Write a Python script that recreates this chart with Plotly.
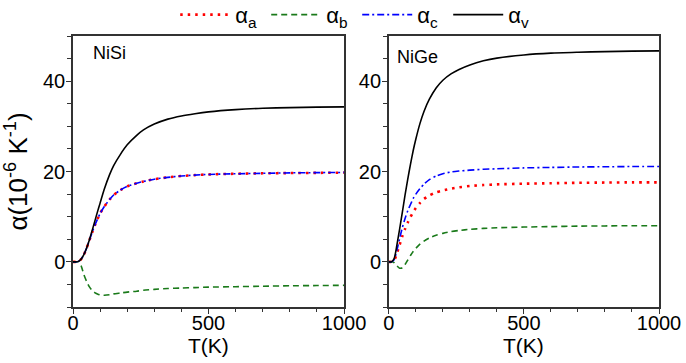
import plotly.graph_objects as go

# ---------------- data ----------------
T_nisi = [0, 10, 20, 30, 40, 50, 60, 70, 80, 90, 100, 115, 135, 150, 175, 200,
          235, 260, 300, 350, 400, 450, 500, 600, 700, 800, 900, 1000]
nisi_a = [0, 0, 0.1, 0.6, 1.6, 3.0, 4.7, 6.4, 8.0, 9.4, 10.7, 12.2, 13.8, 14.8, 15.9, 16.7,
          17.4, 17.8, 18.3, 18.7, 19.0, 19.2, 19.35, 19.5, 19.6, 19.65, 19.7, 19.75]
nisi_b = [0, 0, 0, -0.9, -2.8, -4.3, -5.5, -6.3, -6.8, -7.1, -7.3, -7.4, -7.3, -7.1, -6.9, -6.7,
          -6.5, -6.3, -6.1, -5.9, -5.8, -5.7, -5.6, -5.5, -5.4, -5.3, -5.25, -5.2]
nisi_c = [0, 0, 0.1, 0.6, 1.6, 3.0, 4.7, 6.4, 8.0, 9.4, 10.7, 12.2, 13.8, 14.8, 15.9, 16.7,
          17.4, 17.8, 18.3, 18.7, 19.0, 19.2, 19.35, 19.5, 19.6, 19.7, 19.75, 19.8]
nisi_v = [0, 0, 0.1, 0.6, 1.6, 3.0, 4.8, 6.8, 8.9, 11.0, 13.0, 16.0, 19.3, 21.3, 23.8, 25.9,
          28.0, 29.2, 30.5, 31.6, 32.3, 32.8, 33.2, 33.7, 34.0, 34.15, 34.25, 34.3]

T_nige = [0, 10, 20, 30, 40, 50, 60, 70, 80, 90, 100, 115, 130, 150, 175, 200,
          230, 260, 300, 350, 400, 500, 600, 700, 800, 900, 1000]
nige_a = [0, 0, 0.4, 1.9, 3.8, 5.7, 7.3, 8.7, 9.9, 11.0, 11.9, 13.0, 13.9, 14.7, 15.4, 15.8,
          16.2, 16.5, 16.8, 17.0, 17.15, 17.3, 17.4, 17.5, 17.55, 17.6, 17.6]
nige_b = [0, 0, -0.2, -0.9, -1.4, -1.3, -0.6, 0.4, 1.4, 2.3, 3.0, 3.9, 4.6, 5.3, 5.9, 6.3,
          6.7, 6.95, 7.2, 7.4, 7.55, 7.7, 7.8, 7.9, 7.95, 8.0, 8.0]
nige_c = [0, 0, 0.5, 2.6, 5.2, 7.6, 9.6, 11.3, 12.7, 14.0, 15.0, 16.2, 17.2, 18.2, 19.0, 19.5,
          19.9, 20.1, 20.3, 20.5, 20.6, 20.8, 20.9, 21.0, 21.05, 21.1, 21.1]
nige_v = [0, 0, 0.8, 3.8, 7.3, 11.0, 14.8, 18.3, 21.6, 24.6, 27.2, 30.6, 33.3, 36.0, 38.5, 40.2,
          41.6, 42.6, 43.6, 44.5, 45.1, 45.8, 46.2, 46.4, 46.55, 46.65, 46.7]

series_names = ["α<sub>a</sub>", "α<sub>b</sub>", "α<sub>c</sub>", "α<sub>v</sub>"]
panel_labels = ["NiSi", "NiGe"]
x_title = "T(K)"
y_title = "α(10<sup>-6</sup> K<sup>-1</sup>)"
x_ticks = [0, 500, 1000]
y_ticks = [0, 20, 40]

# ---------------- styling ----------------
FONT = "Liberation Sans, Arial, Helvetica, sans-serif"
styles = [
    dict(color="#ff0000", dash="2.5px,5px", width=2.6),
    dict(color="#1a7a1a", dash="6px,4px", width=1.6),
    dict(color="#0000ff", dash="7px,3px,2px,3px", width=1.6),
    dict(color="#000000", dash="solid", width=1.6),
]

fig = go.Figure()
panels = [
    (T_nisi, [nisi_a, nisi_b, nisi_c, nisi_v], "x", "y"),
    (T_nige, [nige_a, nige_b, nige_c, nige_v], "x2", "y2"),
]
for p, (T, ys, xa, ya) in enumerate(panels):
    for i, y in enumerate(ys):
        fig.add_trace(go.Scatter(
            x=T, y=y, mode="lines", name=series_names[i],
            line=dict(shape="spline", smoothing=0.6, **styles[i]),
            xaxis=xa, yaxis=ya, showlegend=(p == 0), legendrank=i,
        ))

axis_common = dict(
    showline=True, mirror=True, linecolor="#333333", linewidth=1.5,
    showgrid=False, zeroline=False, automargin=False,
    ticks="outside", ticklen=5, tickwidth=1, tickcolor="#333333",
    tickfont=dict(family=FONT, size=20, color="#000000"),
)
xcommon = dict(axis_common, range=[0, 1000], tickvals=x_ticks, ticklabelstandoff=-8,
               minor=dict(dtick=100, tick0=0, ticks="outside", ticklen=3, tickcolor="#333333"))
ycommon = dict(axis_common, range=[-10, 50], tickvals=y_ticks, ticklabelstandoff=-3,
               minor=dict(dtick=5, tick0=0, ticks="outside", ticklen=4, tickcolor="#333333"))

label_font = dict(size=18, family=FONT, color="#000000")
xtitle_font = dict(size=21, family=FONT, color="#000000")

fig.update_layout(
    width=686, height=363,
    margin=dict(l=73, r=27, t=36, b=56, autoexpand=False),
    paper_bgcolor="white", plot_bgcolor="white",
    font=dict(family=FONT, color="#000000"),
    xaxis=dict(xcommon, domain=[0, 0.4625], anchor="y"),
    xaxis2=dict(xcommon, domain=[0.539, 1], anchor="y2"),
    yaxis=dict(ycommon, anchor="x",
               title=dict(text=y_title, font=dict(size=26, family=FONT))),
    yaxis2=dict(ycommon, anchor="x2"),
    legend=dict(orientation="h", x=0.485, xanchor="center", y=1.078, yanchor="middle",
                font=dict(size=22, family=FONT), itemwidth=50,
                entrywidth=26, entrywidthmode="pixels",
                bgcolor="rgba(0,0,0,0)", traceorder="normal"),
    showlegend=True,
    annotations=[
        dict(text=panel_labels[0], xref="x domain", yref="y domain", x=0.066, y=0.937,
             xanchor="left", yanchor="middle", showarrow=False, font=label_font),
        dict(text=panel_labels[1], xref="x2 domain", yref="y2 domain", x=0.022, y=0.924,
             xanchor="left", yanchor="middle", showarrow=False, font=label_font),
        dict(text=x_title, xref="x domain", yref="y domain", x=0.5, y=-0.142,
             xanchor="center", yanchor="middle", showarrow=False, font=xtitle_font),
        dict(text=x_title, xref="x2 domain", yref="y2 domain", x=0.5, y=-0.142,
             xanchor="center", yanchor="middle", showarrow=False, font=xtitle_font),
    ],
)

fig.write_html("out.html", config={"displayModeBar": False},
               post_script="document.body.style.margin='0';")
